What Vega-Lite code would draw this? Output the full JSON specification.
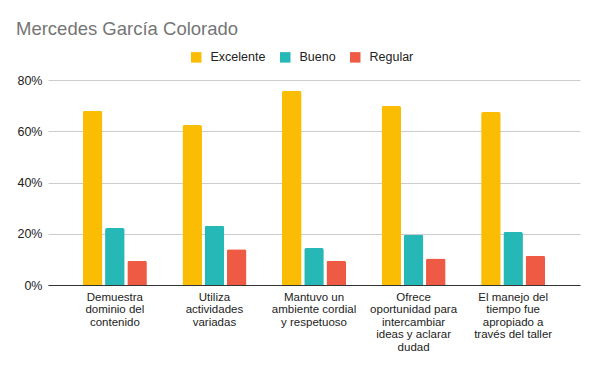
{
  "$schema": "https://vega.github.io/schema/vega-lite/v6.json",
  "autosize": {"type": "none"},
  "padding": {"left": 48, "top": 80, "right": 17, "bottom": 83},
  "width": 532,
  "height": 205,
  "background": "white",
  "title": {
    "text": "Mercedes García Colorado",
    "anchor": "start",
    "frame": "group",
    "font": "Liberation Sans",
    "fontSize": 18.5,
    "fontWeight": "normal",
    "color": "#757575",
    "dx": -32,
    "baseline": "alphabetic",
    "offset": 0,
    "dy": 2
  },
  "config": {
    "view": {"stroke": null},
    "font": "Liberation Sans"
  },
  "data": {
    "values": [
      {"criterio": "Demuestra dominio del contenido", "nivel": "Excelente", "valor": 0.68},
      {"criterio": "Demuestra dominio del contenido", "nivel": "Bueno", "valor": 0.222},
      {"criterio": "Demuestra dominio del contenido", "nivel": "Regular", "valor": 0.095},
      {"criterio": "Utiliza actividades variadas", "nivel": "Excelente", "valor": 0.624},
      {"criterio": "Utiliza actividades variadas", "nivel": "Bueno", "valor": 0.231},
      {"criterio": "Utiliza actividades variadas", "nivel": "Regular", "valor": 0.14},
      {"criterio": "Mantuvo un ambiente cordial y respetuoso", "nivel": "Excelente", "valor": 0.758},
      {"criterio": "Mantuvo un ambiente cordial y respetuoso", "nivel": "Bueno", "valor": 0.144},
      {"criterio": "Mantuvo un ambiente cordial y respetuoso", "nivel": "Regular", "valor": 0.095},
      {"criterio": "Ofrece oportunidad para intercambiar ideas y aclarar dudad", "nivel": "Excelente", "valor": 0.699},
      {"criterio": "Ofrece oportunidad para intercambiar ideas y aclarar dudad", "nivel": "Bueno", "valor": 0.196},
      {"criterio": "Ofrece oportunidad para intercambiar ideas y aclarar dudad", "nivel": "Regular", "valor": 0.103},
      {"criterio": "El manejo del tiempo fue apropiado a través del taller", "nivel": "Excelente", "valor": 0.675},
      {"criterio": "El manejo del tiempo fue apropiado a través del taller", "nivel": "Bueno", "valor": 0.207},
      {"criterio": "El manejo del tiempo fue apropiado a través del taller", "nivel": "Regular", "valor": 0.114}
    ]
  },
  "mark": {"type": "bar", "cornerRadiusTopLeft": 2, "cornerRadiusTopRight": 2},
  "encoding": {
    "x": {
      "field": "criterio",
      "type": "nominal",
      "sort": null,
      "title": null,
      "scale": {"paddingInner": 0.357, "paddingOuter": 0.35},
      "axis": {
        "labelAngle": 0,
        "labelFontSize": 11.5,
        "labelColor": "#222222",
        "labelLineHeight": 12.5,
        "labelPadding": 6,
        "labelBaseline": "top",
        "ticks": false,
        "domainColor": "#333333",
        "domainWidth": 1,
        "labelExpr": "datum.value == 'Demuestra dominio del contenido' ? ['Demuestra', 'dominio del', 'contenido'] : datum.value == 'Utiliza actividades variadas' ? ['Utiliza', 'actividades', 'variadas'] : datum.value == 'Mantuvo un ambiente cordial y respetuoso' ? ['Mantuvo un', 'ambiente cordial', 'y respetuoso'] : datum.value == 'Ofrece oportunidad para intercambiar ideas y aclarar dudad' ? ['Ofrece', 'oportunidad para', 'intercambiar', 'ideas y aclarar', 'dudad'] : ['El manejo del', 'tiempo fue', 'apropiado a', 'través del taller']"
      }
    },
    "xOffset": {
      "field": "nivel",
      "type": "nominal",
      "sort": ["Excelente", "Bueno", "Regular"],
      "scale": {"paddingInner": 0.12, "paddingOuter": 0}
    },
    "y": {
      "field": "valor",
      "type": "quantitative",
      "title": null,
      "scale": {"domain": [0, 0.8], "nice": false},
      "axis": {
        "values": [0, 0.2, 0.4, 0.6, 0.8],
        "format": ".0%",
        "domain": false,
        "ticks": false,
        "labelFontSize": 12.5,
        "labelColor": "#222222",
        "labelPadding": 6,
        "gridColor": "#cccccc",
        "gridWidth": 1
      }
    },
    "color": {
      "field": "nivel",
      "type": "nominal",
      "sort": ["Excelente", "Bueno", "Regular"],
      "scale": {"domain": ["Excelente", "Bueno", "Regular"], "range": ["#fbbc04", "#26b8b6", "#ef5a44"]},
      "legend": {
        "title": null,
        "orient": "none",
        "direction": "horizontal",
        "legendX": 142,
        "legendY": -29,
        "symbolType": "square",
        "symbolSize": 110,
        "symbolStrokeWidth": 0,
        "symbolOpacity": 1,
        "labelFontSize": 12.5,
        "labelColor": "#222222",
        "labelOffset": 8,
        "columnPadding": 13
      }
    }
  }
}
